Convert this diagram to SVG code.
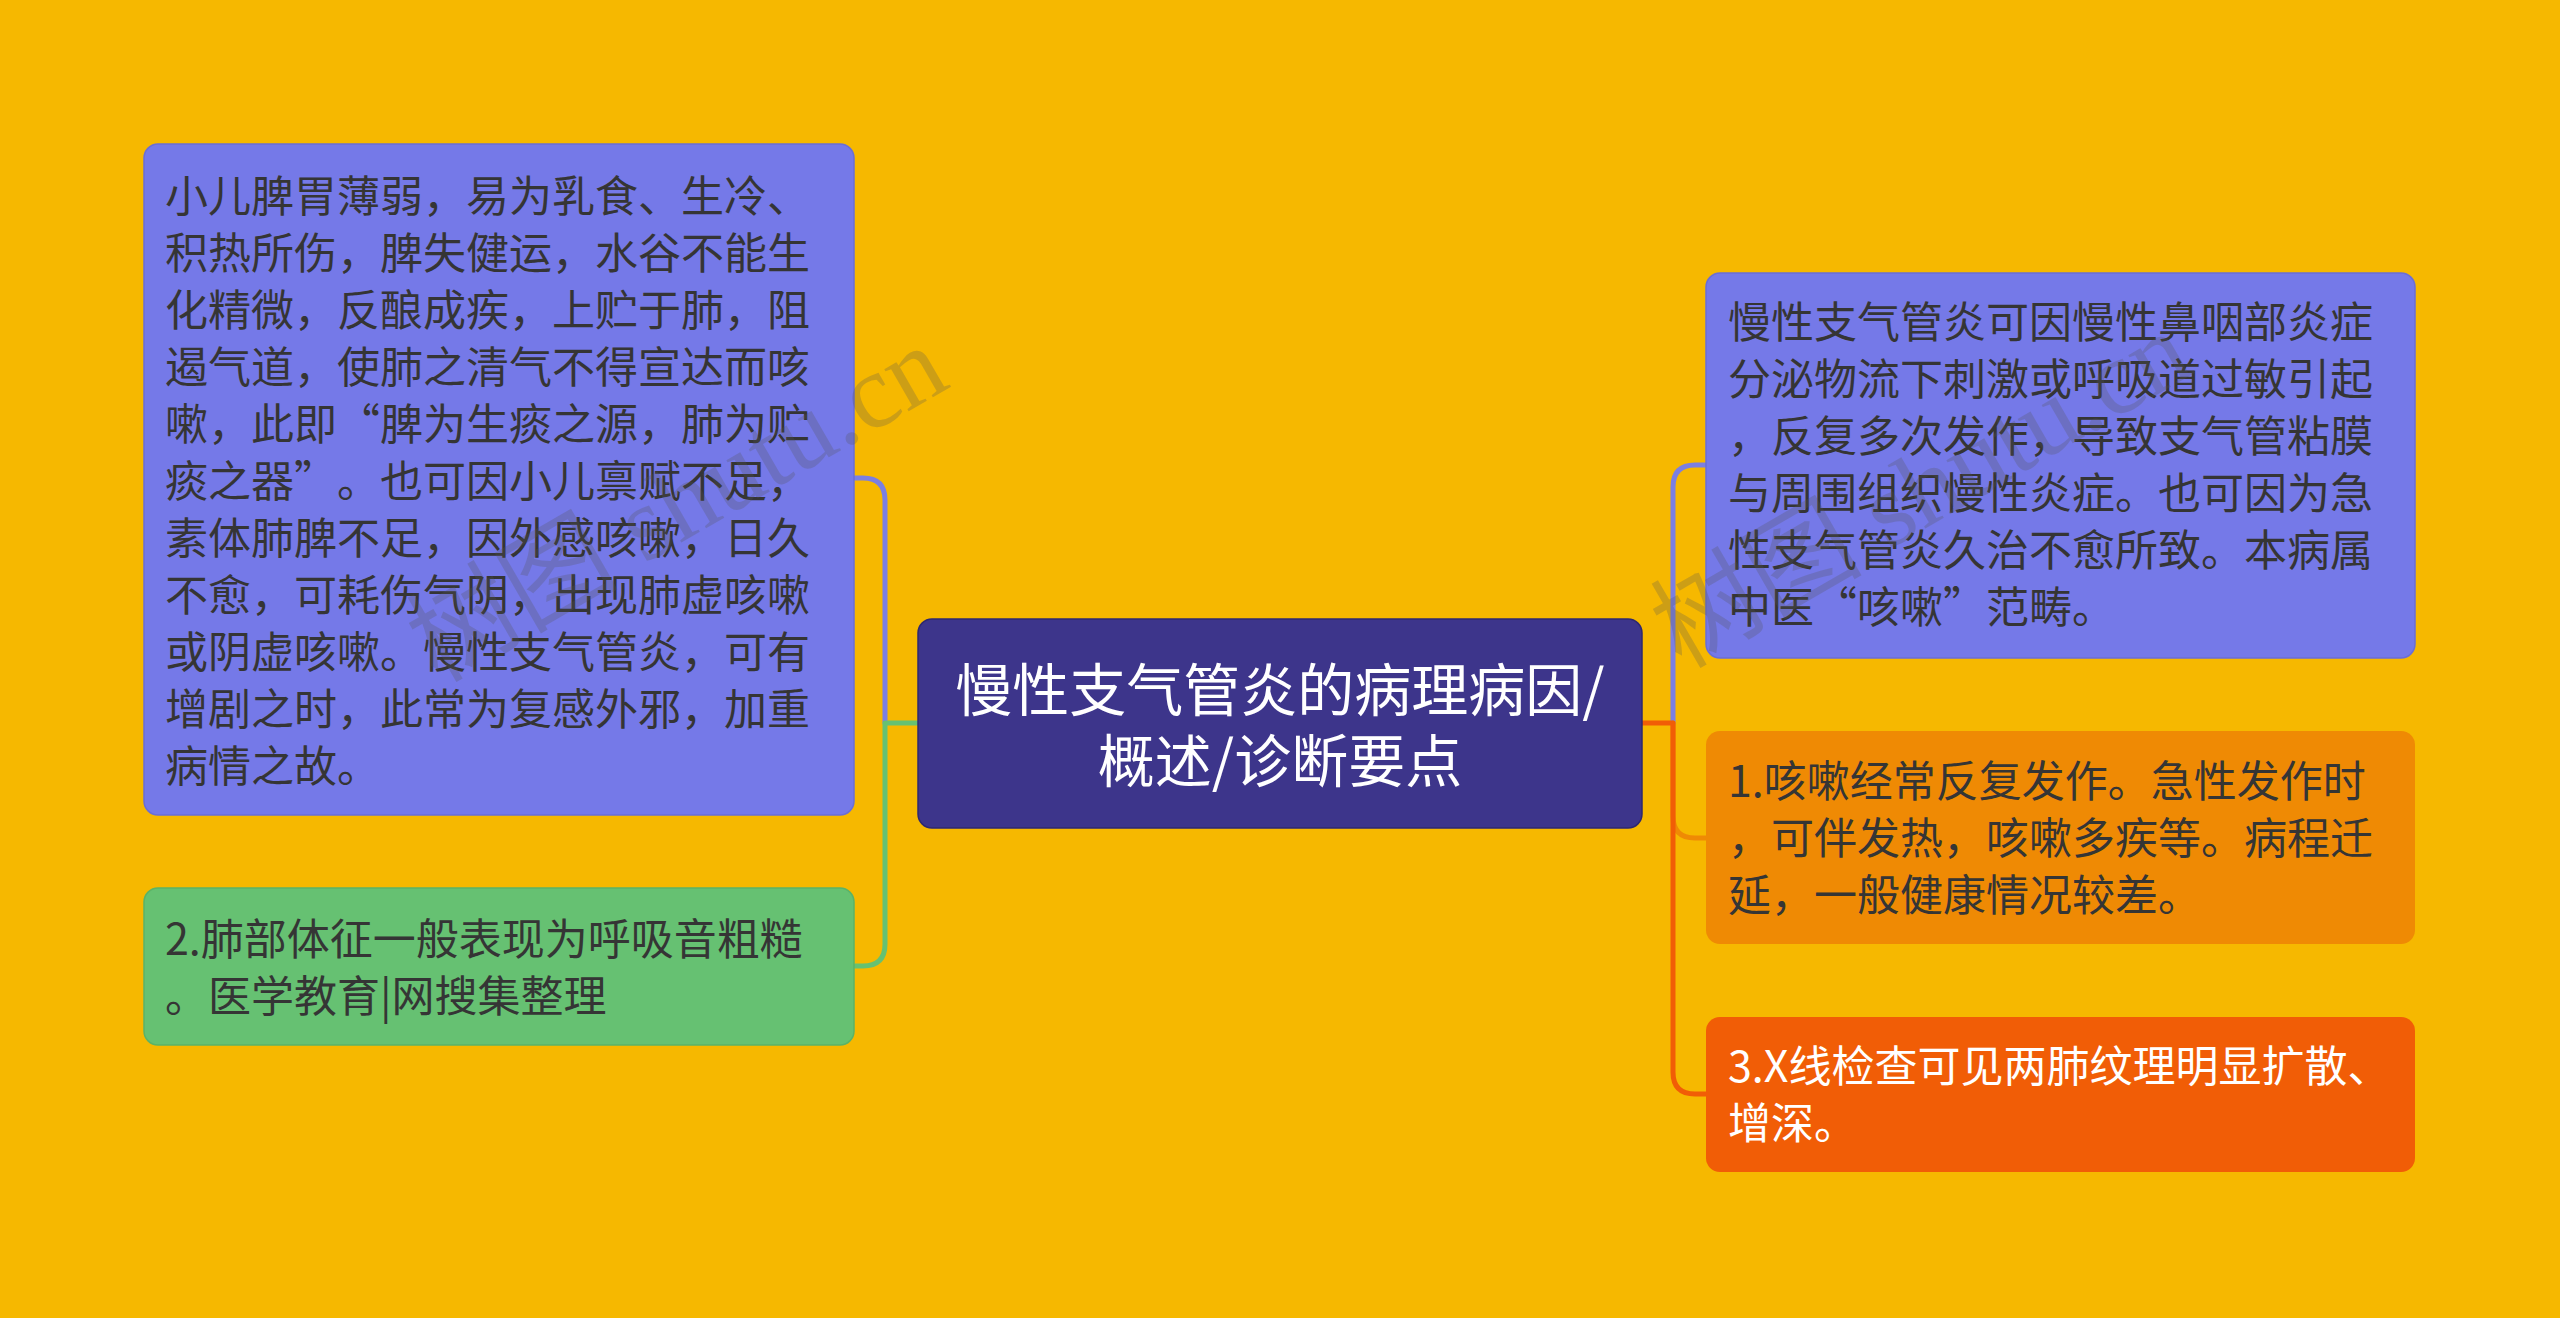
<svg xmlns="http://www.w3.org/2000/svg" width="2560" height="1318" viewBox="0 0 2560 1318">
<style>
.t{font-family:"Noto Sans CJK SC","Noto Sans",sans-serif;font-size:43px;fill:#353535;text-spacing-trim:space-all}
.tw{font-family:"Noto Sans CJK SC","Noto Sans",sans-serif;font-size:43px;fill:#ffffff;text-spacing-trim:space-all}
.tc{font-family:"Noto Sans CJK SC","Noto Sans",sans-serif;font-size:57px;fill:#ffffff;text-anchor:middle}
.wm{font-family:"Liberation Serif","Noto Sans CJK SC",serif;font-size:106px;fill:#555555;fill-opacity:0.26;text-anchor:middle;dominant-baseline:central}
.c{fill:none;stroke-width:5;stroke-linecap:round;stroke-linejoin:round}
</style>
<rect x="0" y="0" width="2560" height="1318" fill="#f6b800"/>
<g id="connectors">
<path class="c" stroke="#7b7fe2" d="M855,478 H863 Q885,478 885,500 V723"/>
<path class="c" stroke="#66c172" d="M917,723 H885 V944 Q885,966 863,966 H855"/>
<path class="c" stroke="#7b7fe2" d="M1705,465 H1695 Q1673,465 1673,487 V723"/>
<path class="c" stroke="#ef8a04" d="M1673,723 V816 Q1673,838 1695,838 H1706"/>
<path class="c" stroke="#f15d06" d="M1642,723 H1673 V1072 Q1673,1094 1695,1094 H1706"/>
</g>
<g id="center">
<rect x="918" y="619" width="724" height="209" rx="14" fill="#3d358b" stroke="#2e2870" stroke-width="1.5"/>
<text class="tc" x="1280" y="711">慢性支气管炎的病理病因/</text>
<text class="tc" x="1280" y="782">概述/诊断要点</text>
</g>
<g id="node-left-1">
<rect x="144" y="144" width="710" height="671" rx="14" fill="#7579e8" stroke="#6a6ed6" stroke-width="1.5"/>
<text class="t" x="165" y="212">小儿脾胃薄弱，易为乳食、生冷、</text>
<text class="t" x="165" y="269">积热所伤，脾失健运，水谷不能生</text>
<text class="t" x="165" y="326">化精微，反酿成疾，上贮于肺，阻</text>
<text class="t" x="165" y="383">遏气道，使肺之清气不得宣达而咳</text>
<text class="t" x="165" y="440">嗽，此即“脾为生痰之源，肺为贮</text>
<text class="t" x="165" y="497">痰之器”。也可因小儿禀赋不足，</text>
<text class="t" x="165" y="554">素体肺脾不足，因外感咳嗽，日久</text>
<text class="t" x="165" y="611">不愈，可耗伤气阴，出现肺虚咳嗽</text>
<text class="t" x="165" y="668">或阴虚咳嗽。慢性支气管炎，可有</text>
<text class="t" x="165" y="725">增剧之时，此常为复感外邪，加重</text>
<text class="t" x="165" y="782">病情之故。</text>
</g>
<g id="node-left-2">
<rect x="144" y="888" width="710" height="157" rx="14" fill="#66c172" stroke="#5bb367" stroke-width="1.5"/>
<text class="t" x="165" y="955">2.肺部体征一般表现为呼吸音粗糙</text>
<text class="t" x="165" y="1012">。医学教育|网搜集整理</text>
</g>
<g id="node-right-1">
<rect x="1706" y="273" width="709" height="385" rx="14" fill="#7579e8" stroke="#6a6ed6" stroke-width="1.5"/>
<text class="t" x="1728" y="338">慢性支气管炎可因慢性鼻咽部炎症</text>
<text class="t" x="1728" y="395">分泌物流下刺激或呼吸道过敏引起</text>
<text class="t" x="1728" y="452">，反复多次发作，导致支气管粘膜</text>
<text class="t" x="1728" y="509">与周围组织慢性炎症。也可因为急</text>
<text class="t" x="1728" y="566">性支气管炎久治不愈所致。本病属</text>
<text class="t" x="1728" y="623">中医“咳嗽”范畴。</text>
</g>
<g id="node-right-2">
<rect x="1706" y="731" width="709" height="213" rx="14" fill="#ef8a04"/>
<text class="t" x="1728" y="797">1.咳嗽经常反复发作。急性发作时</text>
<text class="t" x="1728" y="854">，可伴发热，咳嗽多疾等。病程迁</text>
<text class="t" x="1728" y="911">延，一般健康情况较差。</text>
</g>
<g id="node-right-3">
<rect x="1706" y="1017" width="709" height="155" rx="14" fill="#f15d06"/>
<text class="tw" x="1728" y="1082">3.X线检查可见两肺纹理明显扩散、</text>
<text class="tw" x="1728" y="1139">增深。</text>
</g>
<g id="watermarks">
<text class="wm" transform="translate(677,504) rotate(-30)">树图 shutu.cn</text>
<text class="wm" transform="translate(1921,490) rotate(-30)">树图 shutu.cn</text>
</g>
</svg>
